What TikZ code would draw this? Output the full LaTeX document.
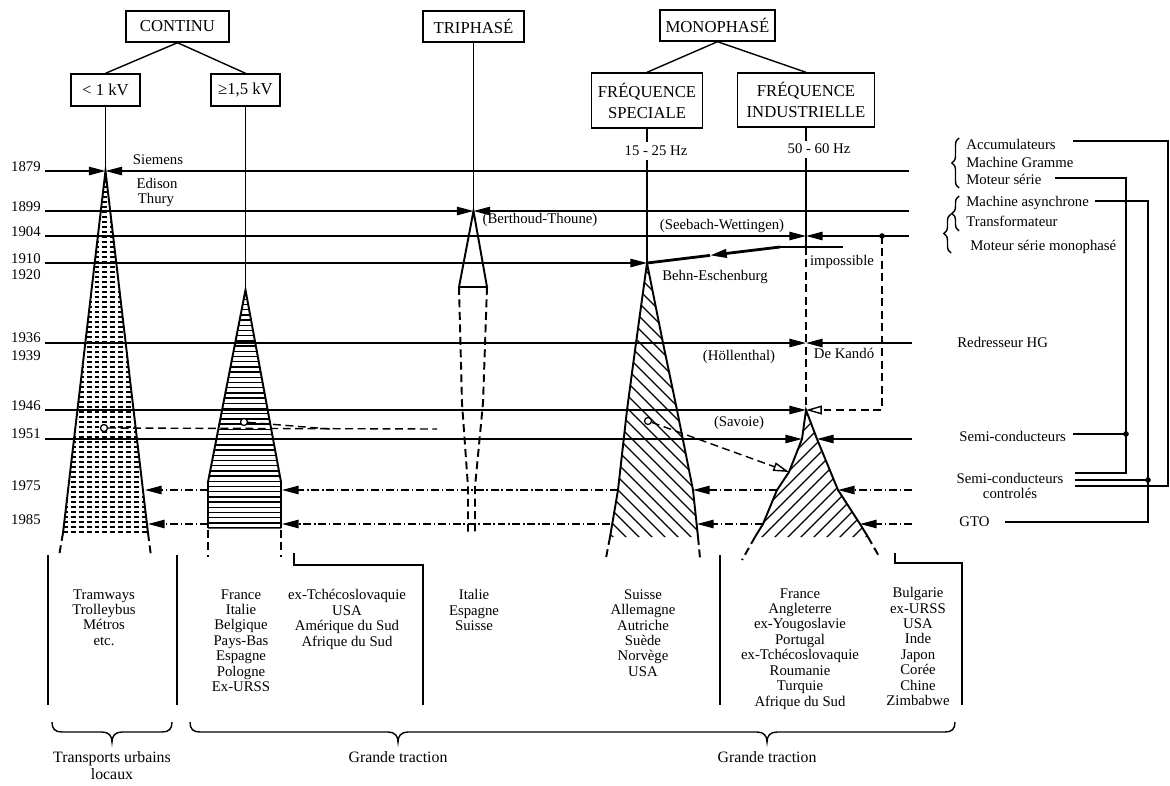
\documentclass[tikz,border=0pt]{standalone}
\usepackage{fontspec}
\setmainfont{Liberation Serif}
\usetikzlibrary{arrows.meta,decorations.pathreplacing,calc}
\tikzset{
 tl/.style={line width=0.8pt},
 arr/.style={-{Triangle[length=9.5pt,width=4.8pt]}},
 oarr/.style={-{Triangle[open,length=9pt,width=5pt]}},
 dsh/.style={dash pattern=on 4.5pt off 2.6pt},
 ddot/.style={dash pattern=on 4.5pt off 1.6pt on 0.8pt off 1.6pt},
 trside/.style={line width=1.1pt},
 box/.style={draw, line width=0.8pt, inner sep=0pt, align=center, font=\fontsize{9.5}{12}\selectfont},
 lbl/.style={inner sep=0pt, font=\fontsize{8.4}{8.8}\selectfont},
 lst/.style={lbl, align=center, anchor=north},
 yr/.style={lbl, anchor=east},
 hatchl/.style={line width=0.7pt},
 dashrow/.style={line width=0.8pt, dash pattern=on 2.8pt off 1.7pt},
 circ/.style={draw, circle, fill=white, inner sep=0pt, minimum size=4pt, line width=0.7pt},
 bot/.style={inner sep=0pt, align=center, font=\fontsize{9}{10}\selectfont},
 rbrace/.style={tl, decorate, decoration={brace, amplitude=4pt}},
}
\begin{document}
\begin{tikzpicture}[x=0.02cm,y=-0.02cm]
\useasboundingbox (0,0) rectangle (1170,785);

% ---------- header boxes
\node[box, minimum width=2.06cm, minimum height=0.62cm] (continu) at (177.5,26.5) {CONTINU};
\node[box, minimum width=1.38cm, minimum height=0.64cm] (lt) at (105.5,90) {< 1 kV};
\node[box, minimum width=1.38cm, minimum height=0.64cm] (ge) at (245.5,90) {≥1,5 kV};
\node[box, minimum width=2.02cm, minimum height=0.62cm] (tri) at (473.5,26.5) {TRIPHASÉ};
\node[box, minimum width=2.3cm, minimum height=0.62cm] (mono) at (717.5,25.5) {MONOPHASÉ};
\node[box, minimum width=2.22cm, minimum height=1.1cm] (fs) at (647,100.5) {FRÉQUENCE\\SPECIALE};
\node[box, minimum width=2.74cm, minimum height=1.08cm] (fi) at (806,100) {FRÉQUENCE\\INDUSTRIELLE};

\draw[tl] (continu.south) -- (lt.north);
\draw[tl] (continu.south) -- (ge.north);
\draw[tl] (mono.south) -- (fs.north);
\draw[tl] (mono.south) -- (fi.north);

\node[lbl] (hz1) at (656,151) {15 - 25 Hz};
\node[lbl] (hz2) at (819,149) {50 - 60 Hz};

% ---------- apexes
\coordinate (A1) at (105.5,171);
\coordinate (A2) at (245.5,290);
\coordinate (A3) at (473.5,211);
\coordinate (A4) at (647,263);
\coordinate (A5) at (806,410);
\coordinate (V1) at (806,247);

\draw[tl] (lt.south) -- (A1);
\draw[tl] (ge.south) -- (A2);
\draw[tl] (tri.south) -- (A3);
\draw[tl] (fs.south) -- ($(fs.south |- hz1.north)+(0,-4)$);
\draw[tl] ($(fs.south |- hz1.south)+(0,4)$) -- (A4);
\draw[tl] (fi.south) -- ($(fi.south |- hz2.north)+(0,-3)$);
\draw[tl] ($(fi.south |- hz2.south)+(0,4)$) -- (V1);
\draw[tl,dsh] (V1) -- (A5);

% ---------- years
\node[yr] (y1879) at (41,167) {1879};
\node[yr] (y1899) at (41,207) {1899};
\node[yr] (y1904) at (41,232) {1904};
\node[yr] (y1910) at (41,259) {1910};
\node[yr] (y1920) at (41,275) {1920};
\node[yr] (y1936) at (41,338) {1936};
\node[yr] (y1939) at (41,356) {1939};
\node[yr] (y1946) at (41,406) {1946};
\node[yr] (y1951) at (41,434) {1951};
\node[yr] (y1975) at (41,486) {1975};
\node[yr] (y1985) at (41,520) {1985};

\coordinate (s1879) at (45,171);  \coordinate (e1879) at (909,171);
\coordinate (s1899) at (45,211);  \coordinate (e1899) at (909,211);
\coordinate (s1904) at (45,236);  \coordinate (e1904) at (909,236);
\coordinate (s1910) at (45,263);
\coordinate (s1936) at (45,343);  \coordinate (e1936) at (912,343);
\coordinate (s1946) at (45,410);
\coordinate (s1951) at (45,439);  \coordinate (e1951) at (912,439);
\coordinate (e1975) at (912,490);
\coordinate (e1985) at (912,524);

% ---------- hatched shapes
% < 1 kV
\begin{scope}
\clip (A1) -- (148,533) -- (63,533) -- cycle;
\foreach \y in {177,182,...,532} \draw[dashrow] (55,\y) -- (160,\y);
\end{scope}
\draw[trside] (63,533) -- (A1) -- (148,533);
\draw[trside,dsh] (63,533) -- (59,556);
\draw[trside,dsh] (148,533) -- (151,556);

% >= 1,5 kV
\begin{scope}
\clip (A2) -- (281,482) -- (281,528.6) -- (208,528.6) -- (208,482) -- cycle;
\foreach \n in {0,...,45} \draw[line width=0.8pt] (200,{528-5.2*\n}) -- (290,{528-5.2*\n});
\end{scope}
\draw[trside] (208,528) -- (208,482) -- (A2) -- (281,482) -- (281,528);
\draw[trside,dsh] (208,530) -- (208,557);
\draw[trside,dsh] (281,530) -- (281,557);

% triphase
\draw[trside] (A3) -- (487,287) -- (459,287) -- cycle;
\draw[trside,dsh] (459,287) -- (462,403) -- (468,487) -- (468,535);
\draw[trside,dsh] (487,287) -- (483,403) -- (475,487) -- (475,535);

% frequence speciale
\begin{scope}
\clip (A4) -- (663,343) -- (677,410) -- (693,490) -- (698,537) -- (610,537) -- (618,490) -- (627,410) -- (636,343) -- cycle;
\foreach \x in {300,313,...,720} \draw[hatchl] (\x,250) -- ++(300,300);
\end{scope}
\draw[trside] (610,537) -- (618,490) -- (627,410) -- (636,343) -- (A4) -- (663,343) -- (677,410) -- (693,490) -- (698,537);
\draw[trside,dsh] (610,537) -- (606,558);
\draw[trside,dsh] (698,537) -- (700,558);

% frequence industrielle
\begin{scope}
\clip (A5) -- (817,439) -- (838,490) -- (860,524) -- (868,537) -- (755,537) -- (763,524) -- (777,490) -- (789,472) -- (802,439) -- cycle;
\foreach \x in {450,463,...,900} \draw[hatchl] (\x,550) -- ++(300,-300);
\end{scope}
\draw[trside] (755,537) -- (763,524) -- (777,490) -- (789,472) -- (802,439) -- (A5) -- (817,439) -- (838,490) -- (860,524) -- (868,537);
\draw[trside,dsh] (755,537) -- (742,560);
\draw[trside,dsh] (868,537) -- (880,558);

% ---------- time lines
\draw[tl,arr] (s1879) -- (A1);
\draw[tl,arr] (e1879) -- (A1);
\draw[tl,arr] (s1899) -- (A3);
\draw[tl,arr] (e1899) -- (A3);
\coordinate (J1904) at (806,236);
\draw[tl,arr] (s1904) -- (J1904);
\draw[tl,arr] (e1904) -- (J1904);
\draw[tl,arr] (s1910) -- (A4);
\coordinate (J1936) at (806,343);
\draw[tl,arr] (s1936) -- (J1936);
\draw[tl,arr] (e1936) -- (J1936);
\draw[tl,arr] (s1946) -- (A5);
\coordinate (D1904) at (882,236);
\fill (D1904) circle[radius=1.6pt];
\draw[tl,dsh,oarr] (D1904) -- (D1904 |- A5) -- (A5);
\coordinate (L1951) at (802,439);
\coordinate (R1951) at (817,439);
\draw[tl,arr] (s1951) -- (L1951);
\draw[tl,arr] (e1951) -- (R1951);

% Behn-Eschenburg
\coordinate (B1) at (780,247);
\coordinate (B2) at (843,247);
\coordinate (Bm) at (710,255.4);
\draw[tl] (B1) -- (B2);
\draw[line width=1.6pt,arr] (B1) -- (Bm);
\draw[line width=1.6pt] (Bm) -- (A4);

% 1975 / 1985 dash-dot
\coordinate (p751) at (838,490); \coordinate (q751) at (777,490);
\coordinate (p752) at (693,490); \coordinate (q752) at (618,490);
\coordinate (p753) at (282,490); \coordinate (q753) at (208,490);
\coordinate (p754) at (145,490);
\draw[tl,ddot,arr] (e1975) -- (p751);
\draw[tl,ddot,arr] (q751) -- (p752);
\draw[tl,ddot,arr] (q752) -- (p753);
\draw[tl,ddot,arr] (q753) -- (p754);
\coordinate (p851) at (860,524); \coordinate (q851) at (763,524);
\coordinate (p852) at (697,524); \coordinate (q852) at (610,524);
\coordinate (p853) at (282,524); \coordinate (q853) at (208,524);
\coordinate (p854) at (148,524);
\draw[tl,ddot,arr] (e1985) -- (p851);
\draw[tl,ddot,arr] (q851) -- (p852);
\draw[tl,ddot,arr] (q852) -- (p853);
\draw[tl,ddot,arr] (q853) -- (p854);

% circles and dashed links
\node[circ] (c1) at (104,428) {};
\node[circ] (c2) at (244,422) {};
\node[circ] (c3) at (648,421) {};
\coordinate (K1) at (437,429);
\coordinate (K2) at (330,429);
\coordinate (T5) at (789,472);
\draw[tl,dsh] (c1) -- (K1);
\draw[tl,dsh] (c2) -- (K2);
\draw[tl,dsh,oarr] (c3) -- (T5);

% ---------- labels in the chart
\node[lbl] (siem) at (158,160) {Siemens};
\node[lbl] (edis) at (157,183) {Edison};
\node[lbl] (thur) at (156,200) {Thury};
\node[lbl] (bert) at (540,220) {(Berthoud-Thoune)};
\node[lbl] (seeb) at (722,226) {(Seebach-Wettingen)};
\node[lbl] (behn) at (715,277) {Behn-Eschenburg};
\node[lbl] (imp) at (842,262) {impossible};
\node[lbl] (holl) at (739,357) {(Höllenthal)};
\node[lbl] (kand) at (844,353) {De Kandó};
\node[lbl] (savo) at (739,423) {(Savoie)};

% ---------- right panel
\node[lbl, anchor=west] (acc) at (966,144) {Accumulateurs};
\node[lbl, anchor=west] (gram) at (966,162) {Machine Gramme};
\node[lbl, anchor=west] (mser) at (966,179) {Moteur série};
\node[lbl, anchor=west] (masy) at (966,203) {Machine asynchrone};
\node[lbl, anchor=west] (trans) at (966,221) {Transformateur};
\node[lbl, anchor=west] (msm) at (970,247) {Moteur série monophasé};
\node[lbl, anchor=west] (redr) at (957,342) {Redresseur HG};
\node[lbl, anchor=west] (semi) at (959,436) {Semi-conducteurs};
\node[lbl, align=center, font=\fontsize{8.4}{9}\selectfont] (semic) at (1010,486) {Semi-conducteurs\\controlés};
\node[lbl, anchor=west] (gto) at (959,522) {GTO};

\draw[rbrace] (959,188) -- (959,138);
\draw[rbrace] (959,231) -- (959,196);
\draw[rbrace] (951,253) -- (951,214);

\coordinate (acc1) at (1073,141); \coordinate (acc2) at (1168,141);
\coordinate (acc3) at (1168,486); \coordinate (acc4) at (1075,486);
\draw[tl] (acc1) -- (acc2) -- (acc3) -- (acc4);
\coordinate (ms1) at (1055,178); \coordinate (ms2) at (1126,178);
\coordinate (ms3) at (1126,473); \coordinate (ms4) at (1075,473);
\draw[tl] (ms1) -- (ms2) -- (ms3) -- (ms4);
\coordinate (ma1) at (1095,201); \coordinate (ma2) at (1148,201);
\coordinate (ma3) at (1148,522); \coordinate (ma4) at (1005,522);
\draw[tl] (ma1) -- (ma2) -- (ma3) -- (ma4);
\coordinate (sc1) at (1073,434); \coordinate (dA) at (1126,434);
\draw[tl] (sc1) -- (dA);
\fill (dA) circle[radius=1.6pt];
\coordinate (sc2) at (1075,480); \coordinate (dB) at (1148,480);
\draw[tl] (sc2) -- (dB);
\fill (dB) circle[radius=1.6pt];

% ---------- bottom lists
\node[lst] (tram) at (104,589) {Tramways\\Trolleybus\\Métros\\etc.};
\node[lst] (fr1) at (241,589) {France\\Italie\\Belgique\\Pays-Bas\\Espagne\\Pologne\\Ex-URSS};
\node[lst] (tch) at (347,589) {ex-Tchécoslovaquie\\USA\\Amérique du Sud\\Afrique du Sud};
\node[lst] (ita) at (474,589) {Italie\\Espagne\\Suisse};
\node[lst] (sui) at (643,589) {Suisse\\Allemagne\\Autriche\\Suède\\Norvège\\USA};
\node[lst] (fr2) at (800,588) {France\\Angleterre\\ex-Yougoslavie\\Portugal\\ex-Tchécoslovaquie\\Roumanie\\Turquie\\Afrique du Sud};
\node[lst] (bul) at (918,587) {Bulgarie\\ex-URSS\\USA\\Inde\\Japon\\Corée\\Chine\\Zimbabwe};

\draw[tl] (48,555) -- (48,705);
\draw[tl] (177,555) -- (177,705);
\draw[tl] (294,553) -- (294,565) -- (423,565) -- (423,705);
\draw[tl] (720,555) -- (720,705);
\draw[tl] (895,553) -- (895,563) -- (962,563) -- (962,705);

% bottom braces
\draw[tl] (52,722) .. controls (52,729) and (55,732) .. (62,732) -- (102,732)
  .. controls (109,732) and (112,736) .. (112,742) .. controls (112,736) and (115,732) .. (122,732)
  -- (162,732) .. controls (169,732) and (172,729) .. (172,722);
\draw[tl] (190,722) .. controls (190,729) and (193,732) .. (200,732) -- (388,732)
  .. controls (395,732) and (398,736) .. (398,742) .. controls (398,736) and (401,732) .. (408,732)
  -- (757,732) .. controls (764,732) and (767,736) .. (767,742) .. controls (767,736) and (770,732) .. (777,732)
  -- (945,732) .. controls (952,732) and (955,729) .. (955,722);

\node[bot, anchor=north] (urb) at (112,751) {Transports urbains\\locaux};
\node[bot, anchor=north] (gt1) at (398,751) {Grande traction};
\node[bot, anchor=north] (gt2) at (767,751) {Grande traction};
\end{tikzpicture}
\end{document}
